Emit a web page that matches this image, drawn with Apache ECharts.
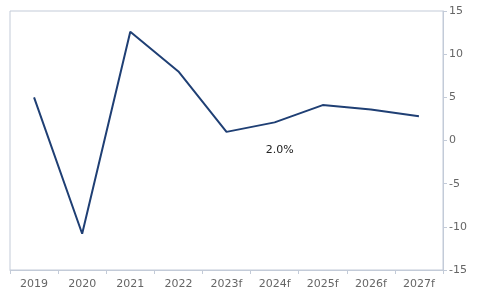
<!DOCTYPE html>
<html><head><meta charset="utf-8">
<script src="https://cdn.jsdelivr.net/npm/echarts@6/dist/echarts.min.js"></script>
<style>html,body{margin:0;padding:0;background:#fff}#c{width:480px;height:300px}</style>
</head><body><div id="c"></div>
<script>
var categories = ['2019','2020','2021','2022','2023f','2024f','2025f','2026f','2027f'];
var growth = [5.0, -10.8, 12.6, 8.0, 1.0, 2.1, 4.1, 3.6, 2.8];
var labelIndex = 5;
var labelText = '2.0%';
var yTicks = [-15, -10, -5, 0, 5, 10, 15];

var axisCol = '#c3cbd8';
var chart = echarts.init(document.getElementById('c'), null, {renderer:'canvas'});
chart.setOption({
  animation:false,
  grid:{left:10,right:37,top:11,bottom:30,show:true,borderColor:axisCol,borderWidth:1},
  xAxis:{type:'category',data:categories,boundaryGap:true,
    axisLine:{onZero:false,lineStyle:{color:axisCol}},
    axisTick:{show:true,length:4,lineStyle:{color:axisCol}},
    axisLabel:{color:'#666',fontFamily:'DejaVu Sans',fontSize:11,margin:9}},
  yAxis:{type:'value',position:'right',min:yTicks[0],max:yTicks[yTicks.length-1],interval:5,
    splitLine:{show:false},
    axisLine:{show:true,lineStyle:{color:axisCol}},
    axisTick:{show:true,length:4,lineStyle:{color:axisCol}},
    axisLabel:{color:'#666',fontFamily:'DejaVu Sans',fontSize:11,margin:6}},
  series:[{type:'line',data:growth.map(function(v,i){
      var d={value:v};
      if(i===labelIndex){d.label={show:true,position:'bottom',distance:22,offset:[5,0],
        formatter:labelText,color:'#222',fontFamily:'DejaVu Sans',fontSize:11};}
      return d;}),
    symbol:'circle',symbolSize:1,showSymbol:true,showAllSymbol:true,
    itemStyle:{color:'rgba(0,0,0,0)',borderWidth:0},
    lineStyle:{color:'#1f3f74',width:2}}]
});
</script></body></html>
